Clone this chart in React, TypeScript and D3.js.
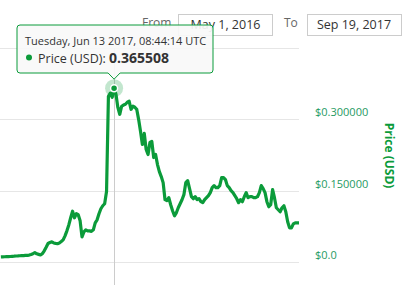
import React from "react";
import * as d3 from "d3";

const W = 419;
const H = 285;

// Daily prices (USD), first sample 2017-04-14 08:44:14 UTC
const startDate = "2017-04-14T08:44:14Z";
const prices = [
  0.0106, 0.0108, 0.011, 0.0112, 0.0114, 0.0116, 0.0119, 0.0122, 0.0126, 0.0128,
  0.0132, 0.0137, 0.0135, 0.014, 0.0138, 0.0145, 0.0158, 0.0175, 0.0196, 0.0172,
  0.016, 0.0148, 0.0175, 0.0235, 0.031, 0.039, 0.041, 0.0423, 0.04, 0.0391,
  0.0385, 0.04, 0.043, 0.0465, 0.055, 0.0655, 0.078, 0.093, 0.1067, 0.093,
  0.1014, 0.0993, 0.0866, 0.0528, 0.0634, 0.0676, 0.0655, 0.0655, 0.0644, 0.0676,
  0.0824, 0.0887, 0.1014, 0.112, 0.1183, 0.1225, 0.148, 0.3486, 0.355, 0.3465,
  0.365508, 0.353, 0.325, 0.3106, 0.3275, 0.33, 0.3317, 0.336, 0.338, 0.3211,
  0.3275, 0.3254, 0.3211, 0.3, 0.2747, 0.2472, 0.2704, 0.2366, 0.2261, 0.2514,
  0.2535, 0.2197, 0.2261, 0.2049, 0.19, 0.1796, 0.1669, 0.131, 0.1289, 0.1352,
  0.1204, 0.1078, 0.0972, 0.1035, 0.1141, 0.1225, 0.131, 0.1416, 0.1669, 0.1711,
  0.1542, 0.1373, 0.1331, 0.1373, 0.131, 0.1331, 0.1268, 0.1247, 0.131, 0.1352,
  0.1394, 0.1458, 0.1563, 0.1606, 0.1563, 0.1563, 0.1606, 0.1775, 0.1775, 0.1733,
  0.1606, 0.1563, 0.15, 0.1458, 0.1394, 0.1331, 0.1247, 0.131, 0.1268, 0.1373,
  0.1458, 0.1352, 0.1373, 0.1373, 0.1352, 0.1352, 0.1373, 0.1458, 0.1606, 0.1542,
  0.1458, 0.1268, 0.1162, 0.1204, 0.1521, 0.1352, 0.1141, 0.1099, 0.1056, 0.1141,
  0.1183, 0.1056, 0.0845, 0.0718, 0.0718, 0.0803, 0.0824, 0.0824, 0.0824,
];

const yTicks = [0, 0.15, 0.3, 0.45];
const yTickLabels = ["$0.0", "$0.150000", "$0.300000", ""];
const hoverIndex = 60;
const tooltipHeader = "Tuesday, Jun 13 2017, 08:44:14 UTC";
const seriesName = "Price (USD)";
const hoverValueText = "0.365508";
const fromLabel = "From";
const toLabel = "To";
const fromValue = "May 1, 2016";
const toValue = "Sep 19, 2017";

const GREEN = "#0b9b3a";
const FONT = "'Open Sans', 'DejaVu Sans', sans-serif";

export default function App() {
  const t0 = new Date(startDate).getTime();
  const day = 86400000;
  const data = prices.map((v, i) => ({ date: new Date(t0 + i * day), v }));

  const x = d3
    .scaleTime()
    .domain([new Date(t0 - 0.46 * day), data[data.length - 1].date])
    .range([0, 299]);
  const y = d3.scaleLinear().domain([0, 0.45]).range([262, 48]);

  const line = d3
    .line<{ date: Date; v: number }>()
    .x((d) => x(d.date))
    .y((d) => y(d.v))
    .curve(d3.curveLinear);

  const hp = data[hoverIndex];
  const hx = x(hp.date);
  const hy = y(hp.v);

  // tooltip geometry
  const tipL = 17;
  const tipR = 213;
  const tipT = 25;
  const tipB = 73;
  const tipPath = `M${tipL + 3},${tipT} L${tipR - 3},${tipT} Q${tipR},${tipT} ${tipR},${tipT + 3} L${tipR},${tipB - 3} Q${tipR},${tipB} ${tipR - 3},${tipB} L${hx + 6},${tipB} L${hx},${hy - 9} L${hx - 6},${tipB} L${tipL + 3},${tipB} Q${tipL},${tipB} ${tipL},${tipB - 3} L${tipL},${tipT + 3} Q${tipL},${tipT} ${tipL + 3},${tipT} Z`;

  return (
    <svg
      width={W}
      height={H}
      style={{ position: "absolute", left: 0, top: 0, background: "#fff" }}
      fontFamily={FONT}
    >
      <defs>
        <clipPath id="plot">
          <rect x={0} y={40} width={300} height={240} />
        </clipPath>
      </defs>
      {/* grid */}
      {yTicks.map((t) => (
        <line
          key={t}
          x1={0}
          x2={299}
          y1={Math.round(y(t)) + 0.5}
          y2={Math.round(y(t)) + 0.5}
          stroke="#e6e6e6"
          strokeWidth={1}
        />
      ))}
      {/* y labels */}
      {yTicks.map((t, i) => (
        <text
          key={"l" + t}
          x={315}
          y={y(t) - 7}
          dy="0.35em"
          fontSize={11}
          fill="#1f9a63"
        >
          {yTickLabels[i]}
        </text>
      ))}
      <text
        transform={`translate(385,155.5) rotate(90)`}
        textAnchor="middle"
        fontSize={12}
        fontWeight="bold"
        fill={GREEN}
      >
        {seriesName}
      </text>
      {/* crosshair */}
      <line x1={Math.round(hx) + 0.5} x2={Math.round(hx) + 0.5} y1={48} y2={285} stroke="#cccccc" strokeWidth={1} />
      {/* line */}
      <path d={line(data) || ""} fill="none" stroke={GREEN} strokeWidth={3.2} strokeLinejoin="round" clipPath="url(#plot)" />
      {/* halo & marker */}
      <circle cx={hx} cy={hy} r={9} fill={GREEN} fillOpacity={0.25} />
      <circle cx={hx} cy={hy} r={3.5} fill={GREEN} stroke="#fff" strokeWidth={1.5} />

      {/* date inputs */}
      <text x={142} y={27} fontSize={12} fill="#666">{fromLabel}</text>
      <rect x={178.5} y={14.5} width={94} height={21} fill="#fff" stroke="#cccccc" />
      <text x={225.5} y={29} fontSize={12.5} fill="#333" textAnchor="middle">{fromValue}</text>
      <text x={284} y={27} fontSize={12} fill="#666">{toLabel}</text>
      <rect x={307.5} y={14.5} width={94} height={21} fill="#fff" stroke="#cccccc" />
      <text x={354} y={29} fontSize={12.5} fill="#333" textAnchor="middle">{toValue}</text>

      {/* tooltip */}
      <path d={tipPath} fill="rgba(249,249,249,0.92)" stroke={GREEN} strokeWidth={1} />
      <text x={25} y={45} fontSize={11} fill="#333">{tooltipHeader}</text>
      <circle cx={29} cy={57.5} r={3} fill={GREEN} />
      <text x={38} y={62.5} fontSize={12.5} fill="#333">
        {seriesName}:{" "}
        <tspan fontWeight="bold" fontSize={14}>{hoverValueText}</tspan>
      </text>
    </svg>
  );
}
